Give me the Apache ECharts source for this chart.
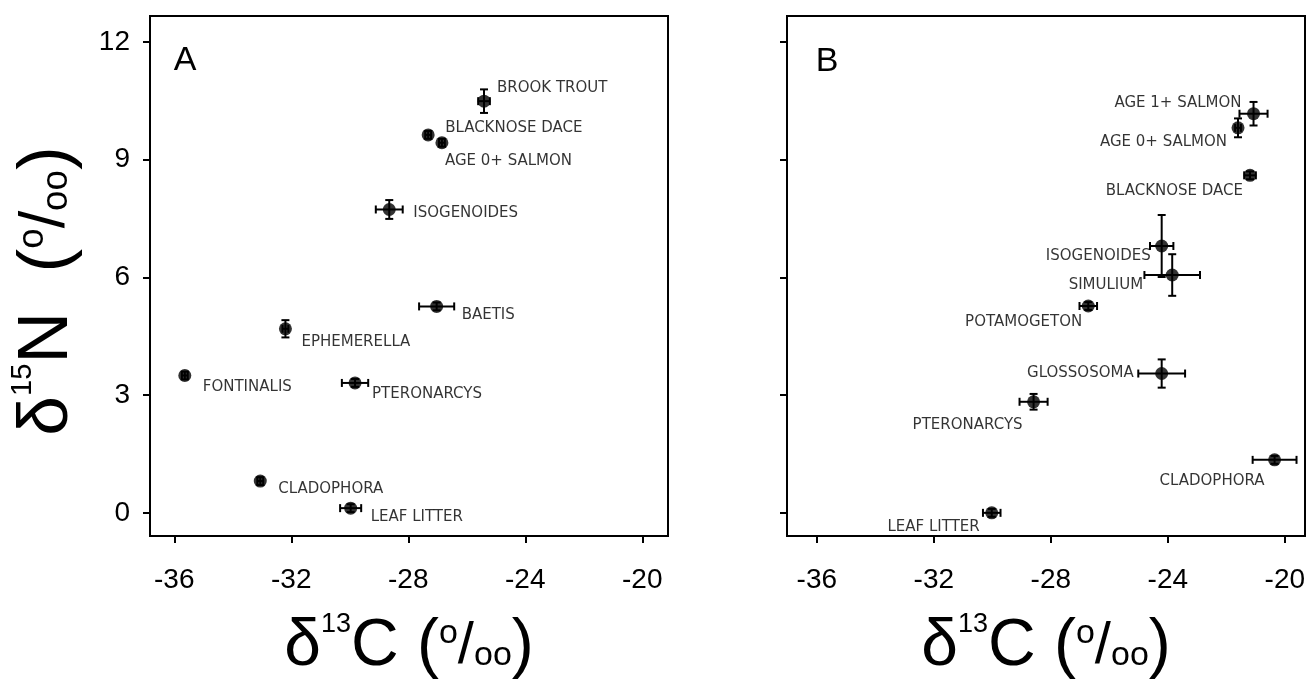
<!DOCTYPE html>
<html>
<head>
<meta charset="utf-8">
<script src="https://cdn.jsdelivr.net/npm/echarts@6/dist/echarts.min.js"></script>
<style>
  html, body { margin: 0; padding: 0; background: #fff; }
  #main { width: 1312px; height: 679px; }
</style>
</head>
<body>
<div id="main"></div>
<script>
// panel A values
const namesA = ['BROOK TROUT', 'BLACKNOSE DACE', 'AGE 0+ SALMON', 'ISOGENOIDES', 'BAETIS',
  'EPHEMERELLA', 'FONTINALIS', 'PTERONARCYS', 'CLADOPHORA', 'LEAF LITTER'];
const xA = [-25.41, -27.32, -26.85, -28.65, -27.03, -32.2, -35.64, -29.82, -33.06, -29.97];
const yA = [10.49, 9.63, 9.43, 7.73, 5.26, 4.69, 3.50, 3.31, 0.81, 0.12];
const xErrA = [0.2, 0.1, 0.1, 0.46, 0.6, 0.1, 0.1, 0.45, 0.1, 0.36];
const yErrA = [0.3, 0.1, 0.1, 0.24, 0.1, 0.22, 0.1, 0.1, 0.1, 0.1];

// panel B
const namesB = ['AGE 1+ SALMON', 'AGE 0+ SALMON', 'BLACKNOSE DACE', 'ISOGENOIDES', 'SIMULIUM',
  'POTAMOGETON', 'GLOSSOSOMA', 'PTERONARCYS', 'CLADOPHORA', 'LEAF LITTER'];
const xB = [-21.07, -21.6, -21.19, -24.21, -23.85, -26.72, -24.21, -28.59, -20.35, -30.02];
const yB = [10.17, 9.81, 8.6, 6.8, 6.06, 5.27, 3.55, 2.83, 1.35, 0.0];
const xErrB = [0.48, 0.1, 0.2, 0.4, 0.95, 0.3, 0.8, 0.48, 0.75, 0.3];
const yErrB = [0.3, 0.24, 0.1, 0.79, 0.53, 0.1, 0.36, 0.2, 0.1, 0.1];

const xTicks = [-36, -32, -28, -24, -20];
const yTicks = [0, 3, 6, 9, 12];

// label placement (pixels from the marker), layout only
const labelOffA = [[13, -13], [17, -7], [3, 18], [24, 4], [25, 9], [16, 13], [18, 12], [17, 11], [18, 8], [20, 9]];
const labelOffB = [[-12, -11], [-11, 14], [-7, 16], [-11, 10], [-29, 10], [-6, 16], [-28, 0], [-11, 23], [-10, 21], [-12, 14]];

const SYM = 13;
var myChart = echarts.init(document.getElementById('main'));

function pointData(names, xs, ys, offs, side) {
  return names.map(function (n, i) {
    var o = offs[i];
    var dx = side === 'right' ? o[0] - SYM / 2 : o[0] + SYM / 2;
    return { name: n, value: [xs[i], ys[i]], label: { position: side, offset: [dx, o[1]] } };
  });
}

function errData(xs, ys, ex, ey) {
  return xs.map(function (x, i) { return [x, ys[i], ex[i], ey[i]]; });
}

function errRender(params, api) {
  var x = api.value(0), y = api.value(1), ex = api.value(2), ey = api.value(3);
  var c = api.coord([x, y]);
  var l = api.coord([x - ex, y])[0], r = api.coord([x + ex, y])[0];
  var t = api.coord([x, y + ey])[1], b = api.coord([x, y - ey])[1];
  var cap = 4;
  var st = { stroke: '#000', lineWidth: 2 };
  return {
    type: 'group',
    children: [
      { type: 'line', shape: { x1: l, y1: c[1], x2: r, y2: c[1] }, style: st },
      { type: 'line', shape: { x1: l, y1: c[1] - cap, x2: l, y2: c[1] + cap }, style: st },
      { type: 'line', shape: { x1: r, y1: c[1] - cap, x2: r, y2: c[1] + cap }, style: st },
      { type: 'line', shape: { x1: c[0], y1: t, x2: c[0], y2: b }, style: st },
      { type: 'line', shape: { x1: c[0] - cap, y1: t, x2: c[0] + cap, y2: t }, style: st },
      { type: 'line', shape: { x1: c[0] - cap, y1: b, x2: c[0] + cap, y2: b }, style: st }
    ]
  };
}

function titleRich(s) {
  var f = 'Liberation Sans', lh = Math.round(80 * s);
  return {
    big: { fontSize: 66 * s, fontFamily: f, color: '#000', lineHeight: lh },
    sup: { fontSize: 27 * s, fontFamily: f, color: '#000', lineHeight: lh, verticalAlign: 'top', padding: [4 * s, 0, 0, 0] },
    pm1: { fontSize: 34 * s, fontFamily: f, color: '#000', lineHeight: lh, verticalAlign: 'top', padding: [10 * s, 0, 0, 0] },
    sl: { fontSize: 58 * s, fontFamily: f, color: '#000', lineHeight: lh },
    pm2: { fontSize: 34 * s, fontFamily: f, color: '#000', lineHeight: lh, verticalAlign: 'bottom', padding: [0, 0, 14 * s, 0] }
  };
}
var xName = '{big|δ}{sup|13}{big|C (}{pm1|o}{sl|/}{pm2|oo}{big|)}';
var yName = '{big|δ}{sup|15}{big|N  (}{pm1|o}{sl|/}{pm2|oo}{big|)}';

function xAxisCfg(gi, min, max) {
  return {
    type: 'value', gridIndex: gi, min: min, max: max,
    axisLine: { show: true, onZero: false, lineStyle: { color: '#000', width: 2 } },
    axisTick: { show: true, customValues: xTicks, length: 7, lineStyle: { color: '#000', width: 2 } },
    axisLabel: { customValues: xTicks, color: '#000', fontSize: 28, fontFamily: 'Liberation Sans', margin: 30 },
    splitLine: { show: false },
    name: xName, nameLocation: 'middle', nameGap: 71,
    nameTextStyle: { rich: titleRich(1) }
  };
}

function yAxisCfg(gi, showLabels) {
  var cfg = {
    type: 'value', gridIndex: gi, min: -0.59, max: 12.66,
    axisLine: { show: true, onZero: false, lineStyle: { color: '#000', width: 2 } },
    axisTick: { show: true, customValues: yTicks, length: 7, lineStyle: { color: '#000', width: 2 } },
    axisLabel: { show: showLabels, customValues: yTicks, color: '#000', fontSize: 28, fontFamily: 'Liberation Sans', margin: 20 },
    splitLine: { show: false }
  };
  if (showLabels) {
    cfg.name = yName;
    cfg.nameLocation = 'middle';
    cfg.nameGap = 60;
    cfg.nameRotate = 90;
    cfg.nameTextStyle = { rich: titleRich(1.08), padding: [0, 30, 0, 0] };
  }
  return cfg;
}

var labelStyle = { show: true, formatter: '{b}', distance: 0, color: '#000', fontSize: 15, fontFamily: 'DejaVu Sans' };

var option = {
  backgroundColor: '#fff',
  animation: false,
  grid: [
    { left: 150, top: 16, width: 518, height: 520, show: true, borderColor: '#000', borderWidth: 2, outerBoundsMode: 'none', containLabel: false },
    { left: 787, top: 16, width: 518, height: 520, show: true, borderColor: '#000', borderWidth: 2, outerBoundsMode: 'none', containLabel: false }
  ],
  xAxis: [xAxisCfg(0, -36.83, -19.12), xAxisCfg(1, -37.02, -19.31)],
  yAxis: [yAxisCfg(0, true), yAxisCfg(1, false)],
  graphic: [
    { type: 'text', x: 185, y: 61, style: { text: 'A', fontSize: 34, fontFamily: 'Liberation Sans', fill: '#000', align: 'center', verticalAlign: 'middle' } },
    { type: 'text', x: 827, y: 62, style: { text: 'B', fontSize: 34, fontFamily: 'Liberation Sans', fill: '#000', align: 'center', verticalAlign: 'middle' } }
  ],
  series: [
    { type: 'custom', xAxisIndex: 0, yAxisIndex: 0, renderItem: errRender, encode: { x: 0, y: 1 },
      data: errData(xA, yA, xErrA, yErrA), z: 2 },
    { type: 'custom', xAxisIndex: 1, yAxisIndex: 1, renderItem: errRender, encode: { x: 0, y: 1 },
      data: errData(xB, yB, xErrB, yErrB), z: 2 },
    { type: 'scatter', xAxisIndex: 0, yAxisIndex: 0, symbol: 'circle', symbolSize: SYM,
      itemStyle: { color: '#000' }, label: labelStyle, z: 3,
      data: pointData(namesA, xA, yA, labelOffA, 'right') },
    { type: 'scatter', xAxisIndex: 1, yAxisIndex: 1, symbol: 'circle', symbolSize: SYM,
      itemStyle: { color: '#000' }, label: labelStyle, z: 3,
      data: pointData(namesB, xB, yB, labelOffB, 'left') }
  ]
};
myChart.setOption(option);
</script>
</body>
</html>
